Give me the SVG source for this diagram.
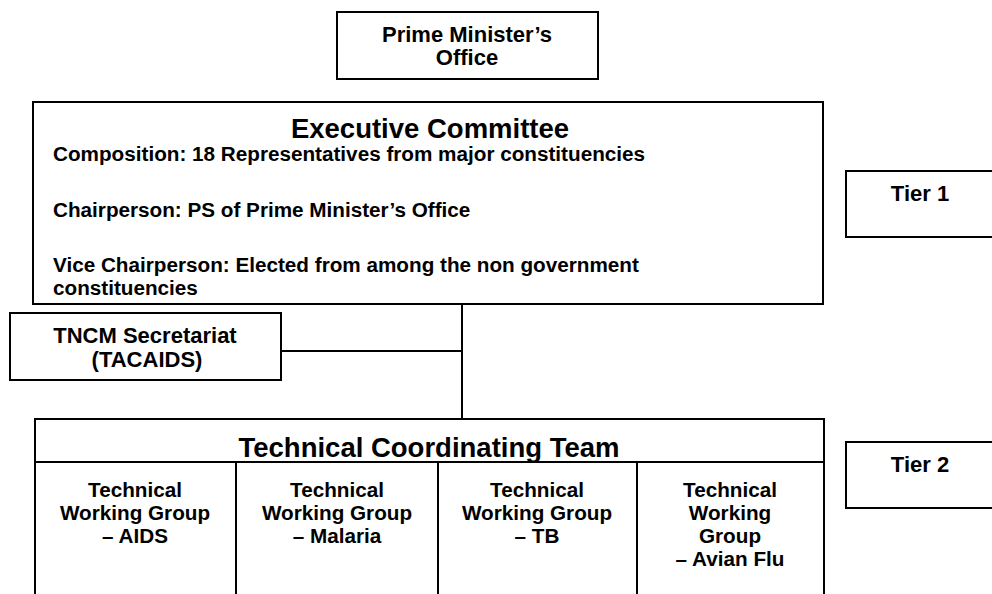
<svg xmlns="http://www.w3.org/2000/svg" width="992" height="594" viewBox="0 0 992 594">
<style>
.box{fill:#fff;stroke:#000;stroke-width:2}
.ln{stroke:#000;stroke-width:2;fill:none}
text{font-family:"Liberation Sans",Arial,sans-serif;font-weight:bold;fill:#000}
.b{font-size:20.7px}
.m{font-size:22px}
.h{font-size:27.5px}
.c{text-anchor:middle}
</style>
<defs>
<clipPath id="hdrclip"><rect x="35" y="419" width="789" height="42"/></clipPath>
</defs>
<g id="connectors">
<line class="ln" x1="462" y1="304" x2="462" y2="419"/>
<line class="ln" x1="281" y1="351" x2="462" y2="351"/>
</g>
<g id="pm-office">
<rect class="box" x="337" y="12" width="261" height="67"/>
<text class="m c" x="467" y="42">Prime Minister’s</text>
<text class="m c" x="467" y="65">Office</text>
</g>
<g id="executive-committee">
<rect class="box" x="33" y="102" width="790" height="202"/>
<text class="h c" x="430" y="138">Executive Committee</text>
<text class="b" x="53" y="161">Composition: 18 Representatives from major constituencies</text>
<text class="b" x="53" y="217">Chairperson: PS of Prime Minister’s Office</text>
<text class="b" x="53" y="272">Vice Chairperson: Elected from among the non government</text>
<text class="b" x="53" y="295">constituencies</text>
</g>
<g id="tncm-secretariat">
<rect class="box" x="10" y="313" width="271" height="67"/>
<text class="m c" x="145" y="343">TNCM Secretariat</text>
<text class="m c" x="147" y="367">(TACAIDS)</text>
</g>
<g id="technical-coordinating-team">
<rect class="box" x="35" y="419" width="789" height="190"/>
<line class="ln" x1="35" y1="462" x2="824" y2="462"/>
<text class="h c" x="429" y="457" clip-path="url(#hdrclip)">Technical Coordinating Team</text>
</g>
<g id="twg-aids">
<line class="ln" x1="236" y1="462" x2="236" y2="600"/>
<text class="b c" x="135" y="497">Technical</text>
<text class="b c" x="135" y="520">Working Group</text>
<text class="b c" x="135" y="543">– AIDS</text>
</g>
<g id="twg-malaria">
<line class="ln" x1="438" y1="462" x2="438" y2="600"/>
<text class="b c" x="337" y="497">Technical</text>
<text class="b c" x="337" y="520">Working Group</text>
<text class="b c" x="337" y="543">– Malaria</text>
</g>
<g id="twg-tb">
<line class="ln" x1="637" y1="462" x2="637" y2="600"/>
<text class="b c" x="537" y="497">Technical</text>
<text class="b c" x="537" y="520">Working Group</text>
<text class="b c" x="537" y="543">– TB</text>
</g>
<g id="twg-avian-flu">
<text class="b c" x="730" y="497">Technical</text>
<text class="b c" x="730" y="520">Working</text>
<text class="b c" x="730" y="543">Group</text>
<text class="b c" x="730" y="566">– Avian Flu</text>
</g>
<g id="tier-1">
<rect class="box" x="846" y="171" width="150" height="66"/>
<text class="m c" x="920" y="201">Tier 1</text>
</g>
<g id="tier-2">
<rect class="box" x="846" y="442" width="150" height="66"/>
<text class="m c" x="920" y="472">Tier 2</text>
</g>
</svg>
